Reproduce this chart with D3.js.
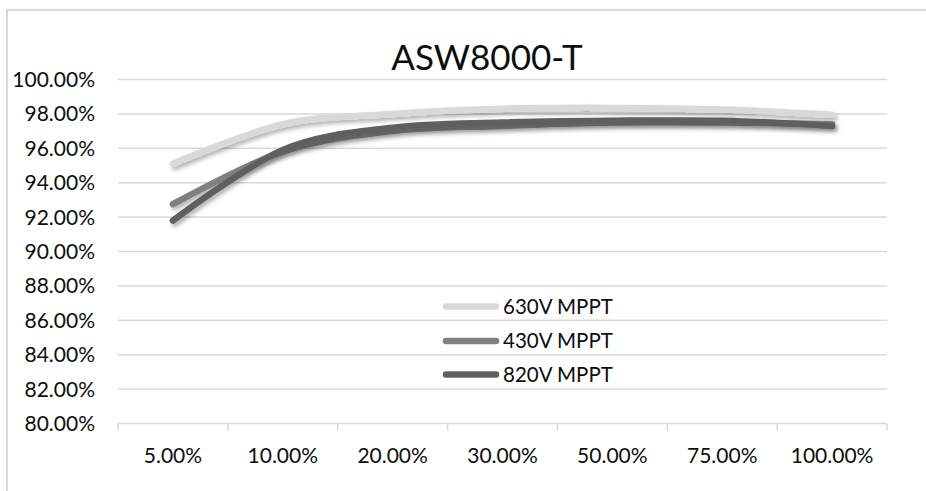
<!DOCTYPE html>
<html>
<head>
<meta charset="utf-8">
<script src="https://cdn.jsdelivr.net/npm/d3@7"></script>
<style>
  html, body { margin: 0; padding: 0; background: #fff; }
  svg { display: block; }
  text { font-family: Lato, "Open Sans", sans-serif; fill: #0d0d0d; }
</style>
</head>
<body>
<svg id="chart" width="926" height="491"></svg>
<script>
const title = "ASW8000-T";
const categories = ["5.00%", "10.00%", "20.00%", "30.00%", "50.00%", "75.00%", "100.00%"];
const seriesNames = ["630V MPPT", "430V MPPT", "820V MPPT"];
const values630 = [95.1, 97.4, 98.0, 98.3, 98.35, 98.25, 97.95];
const values430 = [92.75, 95.8, 97.0, 97.3, 97.5, 97.5, 97.4];
const values820 = [91.8, 95.9, 97.2, 97.5, 97.6, 97.6, 97.3];
const yTicks = [80, 82, 84, 86, 88, 90, 92, 94, 96, 98, 100];
const colors = ["#d9d9d9", "#808080", "#5f5f5f"];

const series = [values630, values430, values820].map((v, i) => ({ name: seriesNames[i], values: v, color: colors[i] }));

const svg = d3.select("#chart");

// outer frame
svg.append("path")
  .attr("d", "M7,491 L7,10 L926,10")
  .attr("fill", "none").attr("stroke", "#d9d9d9").attr("stroke-width", 2);

const x0 = 118, x1 = 887, yTop = 79.5, yBot = 423.5;
const x = d3.scaleBand().domain(categories).range([x0, x1]);
const y = d3.scaleLinear().domain([80, 100]).range([yBot, yTop]);

// drop shadow filter
const defs = svg.append("defs");
const f = defs.append("filter").attr("id", "shadow").attr("x", "-10%").attr("y", "-50%").attr("width", "120%").attr("height", "200%");
f.append("feDropShadow").attr("dx", 2).attr("dy", 3).attr("stdDeviation", 2)
  .attr("flood-color", "#000").attr("flood-opacity", 0.3);

// gridlines
svg.append("g").selectAll("line").data(yTicks.filter(t => t > 80)).join("line")
  .attr("x1", x0).attr("x2", x1)
  .attr("y1", d => y(d)).attr("y2", d => y(d))
  .attr("stroke", "#d9d9d9").attr("stroke-width", 1.5);

// y labels
svg.append("g").selectAll("text").data(yTicks).join("text")
  .attr("x", 95).attr("y", d => y(d))
  .attr("dy", "0.36em")
  .attr("text-anchor", "end")
  .attr("font-size", 21)
  .text(d => d.toFixed(2) + "%");

// x axis line + ticks
const xa = svg.append("g");
xa.append("line").attr("x1", x0).attr("x2", x1).attr("y1", yBot).attr("y2", yBot)
  .attr("stroke", "#d9d9d9").attr("stroke-width", 1.5);
const bounds = categories.map(c => x(c)).concat([x1]);
xa.selectAll("line.tick").data(bounds).join("line").attr("class", "tick")
  .attr("x1", d => d).attr("x2", d => d).attr("y1", yBot).attr("y2", yBot + 7)
  .attr("stroke", "#d9d9d9").attr("stroke-width", 1.5);
xa.selectAll("text").data(categories).join("text")
  .attr("x", d => x(d) + x.bandwidth() / 2).attr("y", 455)
  .attr("dy", "0.36em")
  .attr("text-anchor", "middle")
  .attr("font-size", 21)
  .text(d => d);

// lines
const line = d3.line()
  .x((d, i) => x(categories[i]) + x.bandwidth() / 2)
  .y(d => y(d))
  .curve(d3.curveCatmullRom.alpha(0));

svg.append("g").selectAll("path").data(series).join("path")
  .attr("d", d => line(d.values))
  .attr("fill", "none")
  .attr("stroke", d => d.color)
  .attr("stroke-width", 6.5)
  .attr("stroke-linecap", "round")
  .attr("stroke-linejoin", "round")
  .attr("filter", "url(#shadow)");

// title
svg.append("text").attr("x", 487).attr("y", 70)
  .attr("text-anchor", "middle").attr("font-size", 35).text(title);

// legend
const legendRows = [306.5, 341, 374.5];
const lg = svg.append("g").selectAll("g").data(series).join("g")
  .attr("transform", (d, i) => `translate(0,${legendRows[i]})`);
lg.append("line").attr("x1", 446).attr("x2", 496).attr("y1", 0).attr("y2", 0)
  .attr("stroke", d => d.color).attr("stroke-width", 6.5).attr("stroke-linecap", "round");
lg.append("text").attr("x", 503).attr("y", 0).attr("dy", "0.36em")
  .attr("font-size", 20.5).text(d => d.name);
</script>
</body>
</html>
